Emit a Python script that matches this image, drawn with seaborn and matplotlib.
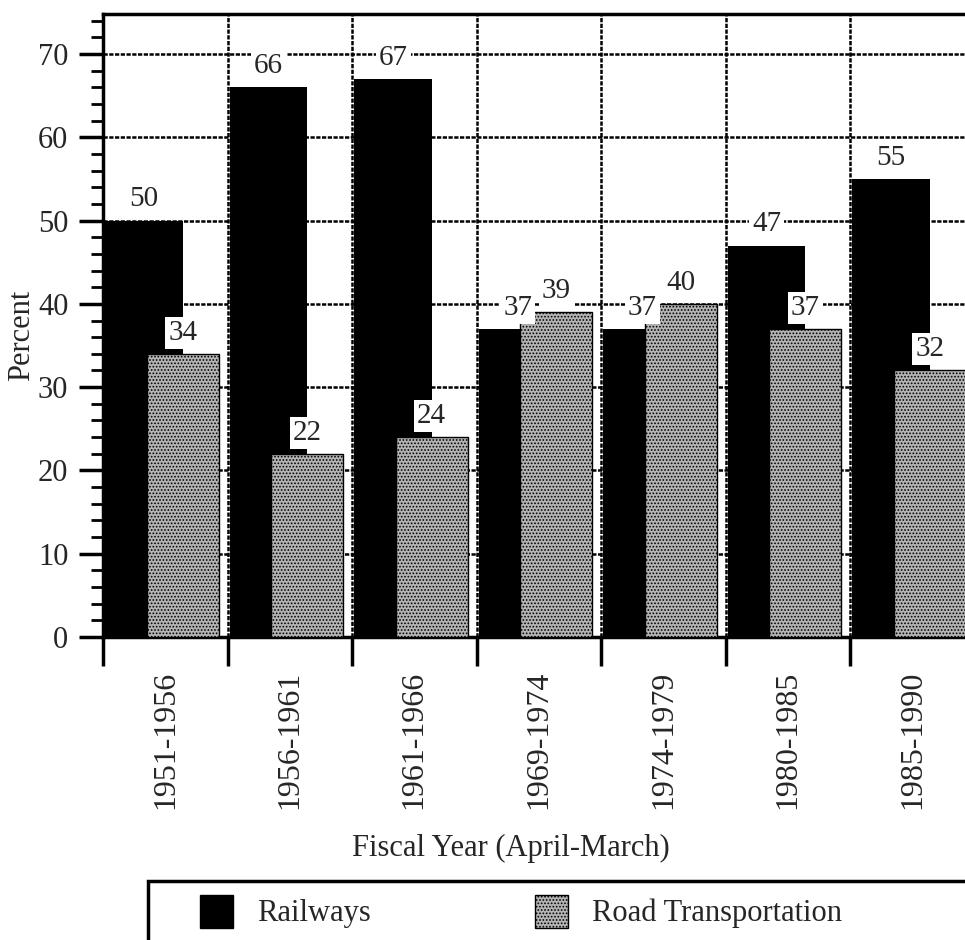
import matplotlib
matplotlib.use("Agg")
import matplotlib.pyplot as plt
from matplotlib.patches import Patch, Rectangle
from matplotlib.ticker import FixedLocator, MultipleLocator
import pandas as pd
import seaborn as sns

# Shares of plan outlay on transport, by plan period
periods = ["1951-1956", "1956-1961", "1961-1966", "1969-1974",
           "1974-1979", "1980-1985", "1985-1990"]
railways = [50, 66, 67, 37, 37, 47, 55]
road = [34, 22, 24, 39, 40, 37, 32]

sns.set_theme(style="white")
plt.rcParams["font.family"] = ["Liberation Serif", "DejaVu Serif"]
plt.rcParams["hatch.linewidth"] = 0.8

FS = 22
ROAD_FACE = "#b4b4b4"
ROAD_HATCH = "....."
GRID_DASH = (0, (1.7, 0.6))

df = pd.DataFrame({"period": periods, "Railways": railways,
                   "Road Transportation": road})

fig = plt.figure(figsize=(9.65, 9.4), dpi=100)
ax = fig.add_axes([103 / 965, 303 / 940, 871.5 / 965, 623 / 940])

rail_w, rail_off = 0.62, -0.17
road_w, road_off = 0.58, 0.14

sns.barplot(data=df, x="period", y="Railways", color="black", saturation=1,
            width=rail_w, linewidth=0, ax=ax, zorder=2)
rail_bars = list(ax.patches)
sns.barplot(data=df, x="period", y="Road Transportation", color=ROAD_FACE,
            saturation=1, width=road_w, edgecolor="black", linewidth=1.0,
            hatch=ROAD_HATCH, ax=ax, zorder=3)
road_bars = [p for p in ax.patches if p not in rail_bars]

# Overlap the two series: railways shifted left, road shifted right
for bars, off, w in ((rail_bars, rail_off, rail_w), (road_bars, road_off, road_w)):
    for p in bars:
        cx = p.get_x() + p.get_width() / 2
        p.set_x(cx + off - w / 2)

# Value labels on white boxes above each bar
for bars, vals in ((rail_bars, railways), (road_bars, road)):
    for p, v in zip(bars, vals):
        ax.text(p.get_x() + p.get_width() / 2, v + 1.7, f"{v}",
                ha="center", va="baseline", fontsize=FS - 1, zorder=6,
                bbox=dict(facecolor="white", edgecolor="none", pad=2))

ax.set_xlim(-0.5, 6.5)
ax.set_ylim(0, 74.8)

ax.set_xticks(range(len(periods)))
ax.set_xticklabels(periods, rotation=90, fontsize=FS + 1)
ax.xaxis.set_minor_locator(FixedLocator([i - 0.5 for i in range(len(periods) + 1)]))
ax.yaxis.set_major_locator(MultipleLocator(10))
ax.yaxis.set_minor_locator(MultipleLocator(2))

ax.tick_params(axis="x", which="major", length=0, pad=24, labelsize=FS + 1)
ax.tick_params(axis="x", which="minor", direction="out", length=21, width=2.5,
               color="black")
ax.tick_params(axis="y", which="major", direction="out", length=17, width=2.5,
               color="black", pad=8, labelsize=FS)
ax.tick_params(axis="y", which="minor", direction="out", length=9, width=2,
               color="black")
ax.tick_params(left=True, bottom=True, which="both")

ax.set_axisbelow(True)
ax.yaxis.grid(True, which="major", color="black", linewidth=1.8, linestyle=GRID_DASH)
ax.xaxis.grid(True, which="minor", color="black", linewidth=1.8, linestyle=GRID_DASH)
ax.xaxis.grid(False, which="major")

for side in ("left", "bottom", "top"):
    ax.spines[side].set_visible(True)
    ax.spines[side].set_color("black")
    ax.spines[side].set_linewidth(2.5)
ax.spines["right"].set_visible(False)

ax.set_xlabel("")
ax.set_ylabel("")
fig.text(22 / 965, 1 - 335 / 940, "Percent", rotation=90, ha="center",
         va="center", fontsize=FS)
fig.text(511 / 965, 1 - 848 / 940, "Fiscal Year (April-March)", ha="center",
         va="center", fontsize=FS)

# Legend with an open-ended frame along the bottom edge
frame = Rectangle((148 / 965, -0.2), 1.0, 0.2 + (1 - 881 / 940),
                  transform=fig.transFigure, facecolor="none",
                  edgecolor="black", linewidth=2.5, clip_on=False)
fig.patches.append(frame)

handles = [Patch(facecolor="black", edgecolor="black"),
           Patch(facecolor=ROAD_FACE, edgecolor="black", hatch=ROAD_HATCH)]
fig.legend(handles, ["Railways", "Road Transportation"], ncol=2,
           loc="center left", bbox_to_anchor=(200 / 965, 1 - 911.5 / 940),
           frameon=False, fontsize=FS, handlelength=1.08, handleheight=1.28,
           handletextpad=0.79, columnspacing=5.36, borderpad=0,
           borderaxespad=0)

fig.savefig("out.png", dpi=100)
